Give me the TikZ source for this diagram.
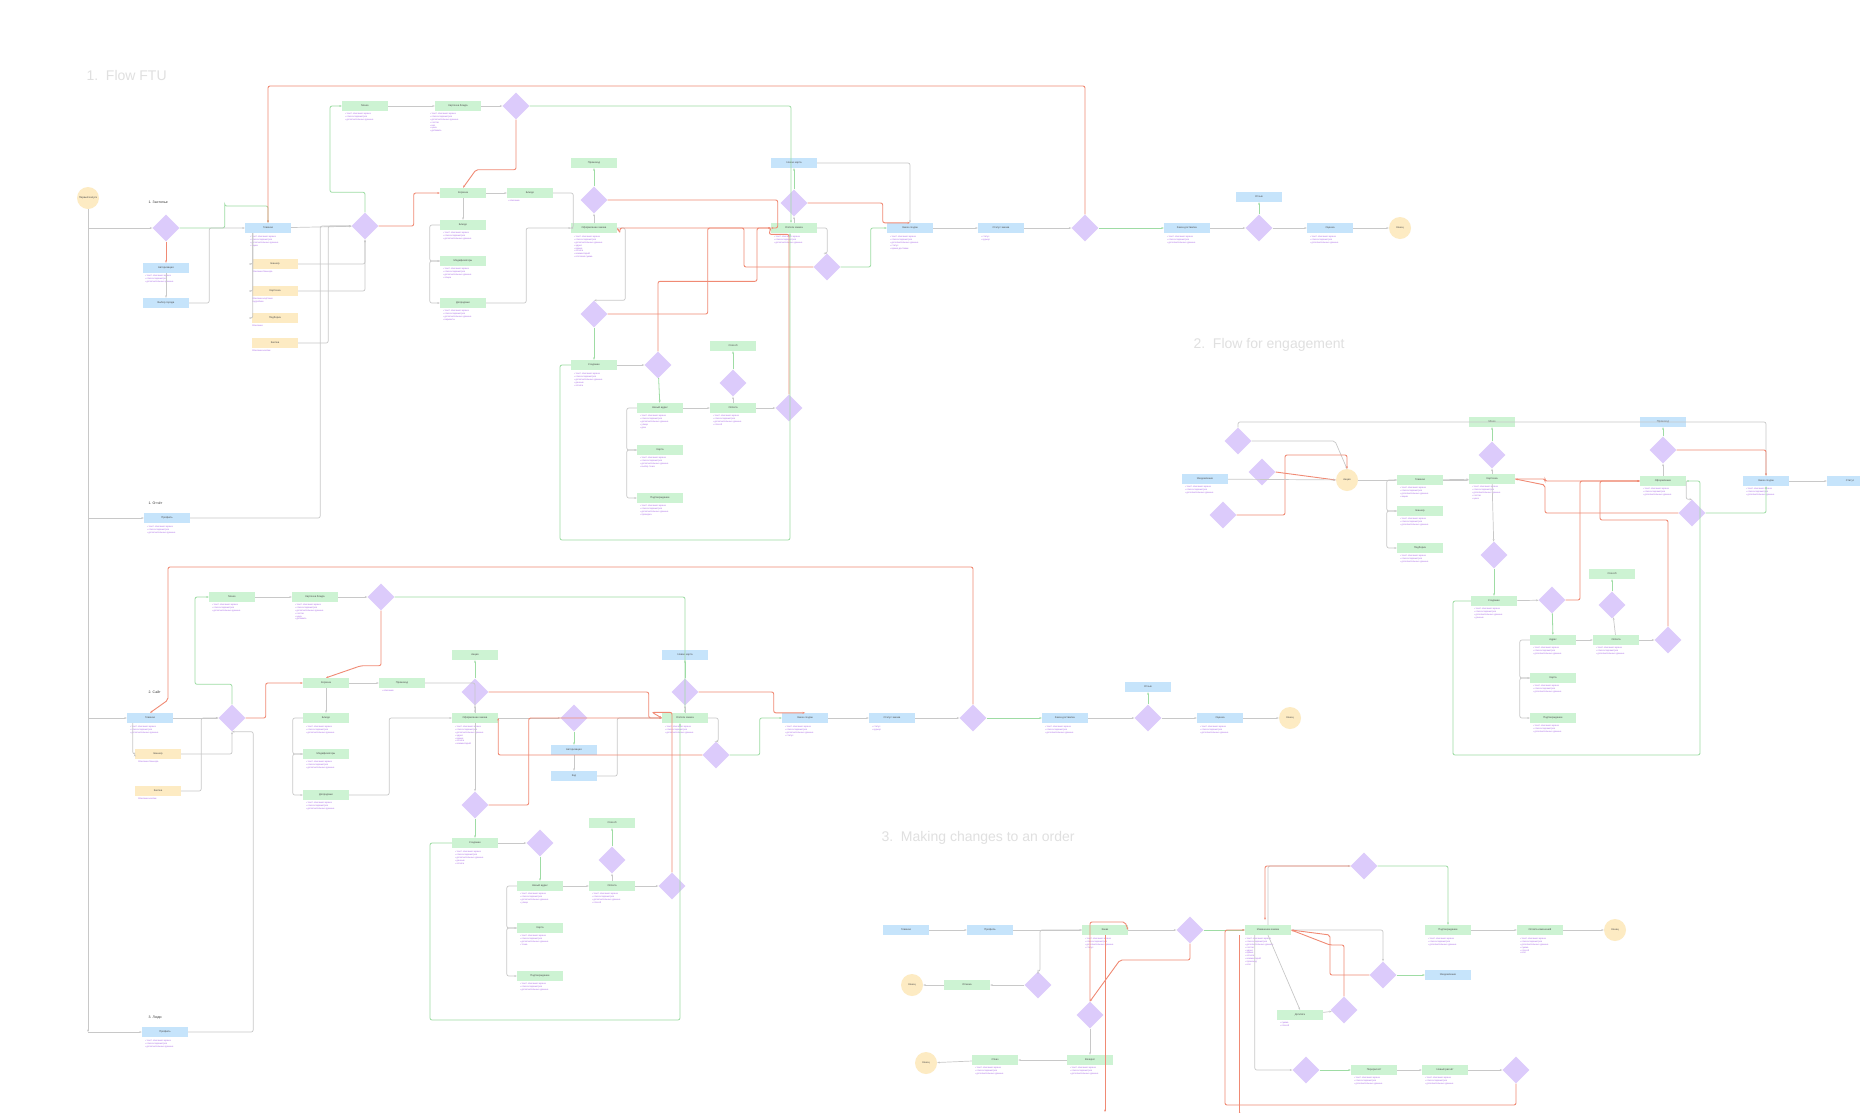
\documentclass[tikz,border=0pt]{standalone}
\usepackage{fontspec}
\setmainfont{Liberation Sans}
\usetikzlibrary{shapes.geometric,arrows.meta}
\definecolor{cb}{HTML}{C6E4FB}
\definecolor{cg}{HTML}{CDF3D3}
\definecolor{cy}{HTML}{FDEBC3}
\definecolor{cd}{HTML}{DCCBFB}
\definecolor{lr}{HTML}{F08A74}
\definecolor{lg}{HTML}{9EDCA4}
\definecolor{lk}{HTML}{C8C8C8}
\definecolor{dp}{HTML}{A96BE6}
\tikzset{
 bx/.style={rectangle,minimum width=46pt,minimum height=10pt,inner sep=0pt,font=\fontsize{2.6}{3}\selectfont,text=black!70},
 dm/.style={diamond,fill=cd,minimum width=27pt,minimum height=27pt,inner sep=0pt,aspect=1,font=\fontsize{2.4}{2.8}\selectfont,align=center,text=black!70},
 ci/.style={circle,fill=cy,minimum size=22pt,inner sep=0pt,font=\fontsize{2.6}{3}\selectfont,text=black!70},
 desc/.style={anchor=north west,text=dp,font=\fontsize{2.3}{2.9}\selectfont,align=left,inner sep=0pt},
 gl/.style={draw=lk,line width=0.7pt,-{Stealth[length=2.5pt]},rounded corners=2pt},
 gn/.style={draw=lg,line width=0.8pt,-{Stealth[length=2.5pt]},rounded corners=2pt},
 rd/.style={draw=lr,line width=0.9pt,-{Stealth[length=2.5pt]},rounded corners=2pt},
 ttl/.style={anchor=west,text=black!12,font=\fontsize{14}{15}\selectfont},
 sub/.style={anchor=west,text=black!80,font=\fontsize{3.5}{4}\selectfont},
}
\newcommand\Bb[4][]{\node[bx,fill=cb] (#2) at (#3,#4) {#1};}
\newcommand\Bg[4][]{\node[bx,fill=cg] (#2) at (#3,#4) {#1};}
\newcommand\By[4][]{\node[bx,fill=cy] (#2) at (#3,#4) {#1};}
\newcommand\Dm[4][]{\node[dm] (#2) at (#3,#4) {#1};}
\newcommand\Ci[4][]{\node[ci] (#2) at (#3,#4) {#1};}
\newcommand\Ds[3]{\node[desc] at (#2,#3) {#1};}
\newcommand\LL{• текст описания экрана\\• список параметров\\• дополнительные данные}
\begin{document}
\begin{tikzpicture}[x=1pt,y=-1pt]
\useasboundingbox[fill=white] (0,0) rectangle (1860,1112);
% ===== section 1
\node[ttl] (t1) at (83,75) {1.\ \ Flow FTU};
\node[sub] (s1) at (145,202) {1. Застолье};
\Ci[Первый запуск]{c1}{88}{198}
\Dm{d1}{166}{228}
\Bb[Авторизация]{b1}{166}{268} \Ds{\LL}{145}{275}
\Bb[Выбор города]{b2}{166}{303}
\Bb[Главная]{b3}{268}{228} \Ds{\LL\\• акции}{250}{236}
\By[Баннер]{y1}{275}{264} \Ds{Описание баннера}{252}{271}
\By[Карточка]{y2}{275}{291} \Ds{Описание карточки\\подробнее}{252}{298}
\By[Подборка]{y3}{275}{318} \Ds{Описание}{252}{325}
\By[Кнопка]{y4}{275}{343} \Ds{Описание кнопки}{252}{350}
\Dm{d2}{365}{226}
\Bg[Меню]{g1}{365}{106} \Ds{\LL}{345}{113}
\Bg[Карточка блюда]{g2}{458}{106} \Ds{\LL\\• состав\\• вес\\• цена\\• добавить}{430}{113}
\Dm{d3}{516}{106}
\Bg[Корзина]{g3}{463}{193}
\Bg[Блюдо]{g4}{530}{193} \Ds{• описание}{508}{200}
\Bg[Блюдо]{g5}{463}{225} \Ds{\LL}{443}{232}
\Bg[Модификаторы]{g6}{463}{261} \Ds{\LL\\• опции}{443}{268}
\Bg[Допродажи]{g7}{463}{303} \Ds{\LL\\• варианты}{443}{310}
\Bg[Промокод]{g8}{594}{163}
\Dm{d4}{594}{200}
\Bg[Оформление заказа]{g9}{594}{228} \Ds{\LL\\• адрес\\• время\\• оплата\\• комментарий\\• итоговая сумма}{574}{236}
\Dm{d5}{594}{314}
\Bg[Создание]{g10}{594}{365} \Ds{\LL\\• данные\\• оплата}{574}{373}
\Dm{d6}{658}{365}
\Bg[Новый адрес]{g11}{660}{408} \Ds{\LL\\• улица\\• дом}{640}{415}
\Bg[Карта]{g12}{660}{450} \Ds{\LL\\• выбор точки}{640}{457}
\Bg[Подтверждение]{g13}{660}{498} \Ds{\LL\\• проверка}{640}{505}
\Bg[Оплата]{g14}{733}{408} \Ds{\LL\\• способ}{713}{415}
\Dm{d7}{733}{383}
\Bg[Способ]{g15}{733}{346}
\Dm{d8}{789}{408}
\Bb[Новая карта]{b4}{794}{163}
\Dm{d9}{794}{203}
\Bg[Оплата заказа]{g16}{794}{228} \Ds{\LL}{774}{236}
\Dm{d10}{827}{267}
\Bb[Заказ создан]{b5}{910}{228} \Ds{\LL\\• статус\\• время доставки}{890}{236}
\Bb[Статус заказа]{b6}{1001}{228} \Ds{• статус\\• курьер}{981}{236}
\Dm{d11}{1085}{228}
\Bb[Заказ доставлен]{b7}{1187}{228} \Ds{\LL}{1167}{236}
\Dm{d12}{1259}{228}
\Bb[Отзыв]{b8}{1259}{197}
\Bb[Оценка]{b9}{1330}{228} \Ds{\LL}{1310}{236}
\Ci[Конец]{c2}{1400}{228}
\node[sub] (s2) at (145,503) {1. Отчёт};
\Bb[Профиль]{b10}{167}{518} \Ds{\LL}{147}{526}
% connectors sec 1
\draw[gl] (c1) -- (88,1032);
\draw[gl] (88,228) -- (d1);
\draw[rd] (d1) -- (b1);
\draw[gn] (d1.east) -- ++(45,0) |- ++(0,-22) -| (b3.north);
\draw[gl] (b1) -- (b2);
\draw[gl] (b2.east) -- ++(20,0) |- (b3.west);
\draw[gl] (b3) -- (d2);
\draw[gl] (y1) -| (d2);
\draw[gl] (y2.east) -| (d2.south);
\draw[gl] (y4.east) -- ++(30,0) |- (d2.west);
\draw[gl] (b3.south west) ++(8,0) |- (y1.west);
\draw[gl] (b3.south west) ++(8,0) |- (y2.west);
\draw[gl] (b3.south west) ++(8,0) |- (y3.west);
\draw[gn] (d2.north) -- ++(0,-20) -| (330,106) -- (g1.west);
\draw[rd] (d2.east) -- ++(35,0) |- (g3.west);
\draw[gl] (g1) -- (g2);
\draw[gl] (g2) -- (d3);
\draw[rd] (d3.south) |- ++(-40,50) -- (g3.north);
\draw[gn] (d3.east) -- (791,106) -- (g9.north-|791,0) ;
\draw[gl] (g3) -- (g4);
\draw[gl] (g3) -- (g5);
\draw[gl] (g5.west) -- ++(-10,0) |- (g6.west);
\draw[gl] (g6.west) -- ++(-10,0) |- (g7.west);
\draw[gl] (g4.east) -- ++(20,0) |- (g9.west);
\draw[gl] (g7.east) -- ++(40,0) |- (g9.west);
\draw[gl] (g9) -- (d4);
\draw[gn] (d4) -- (g8);
\draw[rd] (d4.east) -- ++(170,0) |- (g16.west);
\draw[gl] (g9.east) -- ++(8,0) |- (d5.north);
\draw[gn] (d5) -- (g10);
\draw[rd] (d5.east) -- ++(100,0) |- (g16.west);
\draw[gl] (g10) -- (d6);
\draw[gn] (d6) -- (g11);
\draw[gl] (g11) -- (g14);
\draw[gl] (g11.west) -- ++(-10,0) |- (g12.west);
\draw[gl] (g12.west) -- ++(-10,0) |- (g13.west);
\draw[gl] (g14) -- (d7);
\draw[gn] (d7) -- (g15);
\draw[gl] (g14) -- (d8);
\draw[rd] (d8.north) |- ++(-20,-160) -- (g16.west);
\draw[rd] (d6.north) -- ++(0,-70) -| (757,228) -- (g16.west);
\draw[gn] (g10.west) -- (560,365) -- (560,540) -- (790,540) -- (g16.south-|790,0);
\draw[gl] (g16) -- (d9);
\draw[gn] (d9) -- (b4);
\draw[rd] (d9.east) -- ++(75,0) |- (b5.north);
\draw[gl] (b4.east) -| (b5.north);
\draw[gl] (g16.east) -- ++(10,0) |- (d10.north);
\draw[gn] (d10.east) -- ++(30,0) |- (b5.west);
\draw[rd] (d10.west) -| (744,228) -| (620,233) -- (g9.east);
\draw[gl] (b5) -- (b6);
\draw[gl] (b6) -- (d11);
\draw[gn] (d11) -- (b7);
\draw[gl] (b7) -- (d12);
\draw[gn] (d12) -- (b8);
\draw[gl] (d12) -- (b9);
\draw[gl] (b9) -- (c2);
\draw[rd] (d11.north) -- (1085,86) -- (268,86) -- (b3.north);
\draw[gl] (88,518) -- (b10.west);
\draw[gl] (b10.east) -- ++(130,0) |- (d2.west);
% ===== section 2 (left)
\node[sub] (s3) at (145,692) {2. Сайт};
\Bb[Главная]{e1}{150}{718} \Ds{\LL}{130}{726}
\By[Баннер]{e2}{158}{754} \Ds{Описание баннера}{138}{761}
\By[Кнопка]{e3}{158}{791} \Ds{Описание кнопки}{138}{798}
\Dm{e4}{232}{718}
\Bg[Меню]{e5}{232}{597} \Ds{\LL}{212}{604}
\Bg[Карточка блюда]{e6}{315}{597} \Ds{\LL\\• состав\\• цена\\• добавить}{295}{604}
\Dm{e7}{381}{597}
\Bg[Корзина]{e8}{326}{683}
\Bg[Промокод]{e9}{402}{683} \Ds{• описание}{382}{690}
\Bg[Блюдо]{e10}{326}{718} \Ds{\LL}{306}{726}
\Bg[Модификаторы]{e11}{326}{754} \Ds{\LL}{306}{761}
\Bg[Допродажи]{e12}{326}{795} \Ds{\LL}{306}{802}
\Bg[Акция]{e13}{475}{655}
\Dm{e14}{475}{692}
\Bg[Оформление заказа]{e15}{475}{718} \Ds{\LL\\• адрес\\• время\\• оплата\\• комментарий}{455}{726}
\Dm{e16}{574}{718}
\Bb[Авторизация]{e17}{574}{750}
\Bb[Код]{e18}{574}{776}
\Dm{e19}{475}{805}
\Bg[Создание]{e20}{475}{843} \Ds{\LL\\• данные\\• оплата}{455}{851}
\Dm{e21}{540}{843}
\Bg[Новый адрес]{e22}{540}{886} \Ds{\LL\\• улица}{520}{893}
\Bg[Карта]{e23}{540}{928} \Ds{\LL\\• точка}{520}{935}
\Bg[Подтверждение]{e24}{540}{976} \Ds{\LL}{520}{983}
\Bg[Оплата]{e25}{612}{886} \Ds{\LL\\• способ}{592}{893}
\Dm{e26}{612}{860}
\Bg[Способ]{e27}{612}{823}
\Dm{e28}{672}{886}
\Bb[Новая карта]{e29}{685}{655}
\Dm{e30}{685}{692}
\Bg[Оплата заказа]{e31}{685}{718} \Ds{\LL}{665}{726}
\Dm{e32}{716}{755}
\Bb[Заказ создан]{e33}{805}{718} \Ds{\LL\\• статус}{785}{726}
\Bb[Статус заказа]{e34}{892}{718} \Ds{• статус\\• курьер}{872}{726}
\Dm{e35}{973}{718}
\Bb[Заказ доставлен]{e36}{1065}{718} \Ds{\LL}{1045}{726}
\Dm{e37}{1148}{718}
\Bb[Отзыв]{e38}{1148}{687}
\Bb[Оценка]{e39}{1220}{718} \Ds{\LL}{1200}{726}
\Ci[Конец]{e40}{1290}{718}
\node[sub] (s4) at (145,1018) {3. Люди};
\Bb[Профиль]{e41}{165}{1032} \Ds{\LL}{145}{1040}
\draw[gl] (88,718) -- (e1.west);
\draw[gl] (88,1032) -- (e41.west);
\draw[gl] (e1) -- (e4);
\draw[gl] (e1.south west) ++(6,0) |- (e2.west);
\draw[gl] (e2.east) -| (e4.south);
\draw[gl] (e3.east) -- ++(20,0) |- (e4.west);
\draw[gl] (e41.east) -- ++(65,0) |- (e4.south);
\draw[gn] (e4.north) -- ++(0,-20) -| (195,597) -- (e5.west);
\draw[rd] (e4.east) -- ++(20,0) |- (e8.west);
\draw[gl] (e5) -- (e6); \draw[gl] (e6) -- (e7);
\draw[rd] (e7.south) |- ++(-20,55) -- (e8.north);
\draw[gn] (e7.east) -- (685,597) -- (e31.north-|685,0);
\draw[gl] (e8) -- (e9); \draw[gl] (e8) -- (e10);
\draw[gl] (e10.west) -- ++(-10,0) |- (e11.west);
\draw[gl] (e11.west) -- ++(-10,0) |- (e12.west);
\draw[gl] (e9.east) -| (e15.north);
\draw[gl] (e12.east) -- ++(40,0) |- (e15.west);
\draw[gl] (e15) -- (e14); \draw[gn] (e14) -- (e13);
\draw[rd] (e14.east) -- ++(160,0) |- (e31.west);
\draw[gl] (e15) -- (e16); \draw[gn] (e16) -- (e17); \draw[gl] (e17) -- (e18);
\draw[gl] (e18.east) -- ++(20,0) |- (e31.west);
\draw[gl] (e15) -- (e19); \draw[gn] (e19) -- (e20);
\draw[rd] (e19.east) -- ++(40,0) |- (e31.west);
\draw[gl] (e20) -- (e21); \draw[gn] (e21) -- (e22);
\draw[gl] (e22) -- (e25);
\draw[gl] (e22.west) -- ++(-10,0) |- (e23.west);
\draw[gl] (e23.west) -- ++(-10,0) |- (e24.west);
\draw[gl] (e25) -- (e26); \draw[gn] (e26) -- (e27);
\draw[gl] (e25) -- (e28);
\draw[rd] (e28.north) |- ++(-20,-160) -- (e31.west);
\draw[gn] (e20.west) -- (430,843) -- (430,1020) -- (680,1020) -- (e31.south-|680,0);
\draw[gl] (e31) -- (e30); \draw[gn] (e30) -- (e29);
\draw[rd] (e30.east) -- ++(75,0) |- (e33.north);
\draw[gl] (e31.east) -- ++(10,0) |- (e32.north);
\draw[gn] (e32.east) -- ++(30,0) |- (e33.west);
\draw[rd] (e32.west) -| (e15.east);
\draw[gl] (e33) -- (e34); \draw[gl] (e34) -- (e35); \draw[gn] (e35) -- (e36);
\draw[gl] (e36) -- (e37); \draw[gn] (e37) -- (e38); \draw[gl] (e37) -- (e39); \draw[gl] (e39) -- (e40);
\draw[rd] (e35.north) -- (973,567) -- (168,567) -- (168,700) -- (e1.north);
% ===== section 2 right
\node[ttl] (t2) at (1190,345) {2.\ \ Flow for engagement};
\Dm{f1}{1238}{441} \Dm{f2}{1262}{472}
\Bb[Уведомление]{f3}{1205}{479} \Ds{\LL}{1185}{486}
\Dm{f4}{1223}{515}
\Ci[Акция]{f5}{1347}{480}
\Bg[Главная]{f6}{1420}{480} \Ds{\LL\\• акции}{1400}{487}
\Bg[Баннер]{f7}{1420}{511} \Ds{\LL}{1400}{518}
\Bg[Подборка]{f8}{1420}{548} \Ds{\LL}{1400}{555}
\Bg[Меню]{f9}{1492}{422} \Dm{f10}{1492}{455}
\Bg[Карточка]{f11}{1492}{479} \Ds{\LL\\• состав\\• цена}{1472}{486}
\Dm{f12}{1494}{555}
\Bb[Промокод]{f13}{1663}{422} \Dm{f14}{1663}{450}
\Bg[Оформление]{f15}{1663}{481} \Ds{\LL}{1643}{488}
\Dm{f16}{1692}{513}
\Bb[Заказ создан]{f17}{1766}{481} \Ds{\LL}{1746}{488}
\Bb[Статус]{f18}{1850}{481}
\Bg[Создание]{f19}{1494}{601} \Ds{\LL\\• данные}{1474}{608}
\Dm{f20}{1552}{600}
\Bg[Адрес]{f21}{1553}{640} \Ds{\LL}{1533}{647}
\Bg[Карта]{f22}{1553}{678} \Ds{\LL}{1533}{685}
\Bg[Подтверждение]{f23}{1553}{718} \Ds{\LL}{1533}{725}
\Bg[Способ]{f24}{1612}{574} \Dm{f25}{1612}{605}
\Bg[Оплата]{f26}{1616}{640} \Ds{\LL}{1596}{647}
\Dm{f27}{1668}{640}
\draw[gl] (f1.east) -- (1335,441) -- (f5.north);
\draw[rd] (f2.east) -- (f5.west);
\draw[gl] (f1.north) |- (1766,422) -- (f17.north);
\draw[rd] (f4.east) -| (1285,455) -| (f5.north);
\draw[gl] (f3) -- (f5);
\draw[gl] (f5) -- (f6); \draw[gl] (f6) -- (f9.west|-f6.east) ;
\draw[gl] (f6.west) -- ++(-10,0) |- (f7.west);
\draw[gl] (f7.west) -- ++(-10,0) |- (f8.west);
\draw[gl] (f11) -- (f10); \draw[gn] (f10) -- (f9);
\draw[gl] (f6) -- (f11);
\draw[rd] (f11.east) -- (1545,479) |- (f15.west);
\draw[gl] (f11) -- (f12); \draw[gn] (f12) -- (f19);
\draw[gl] (f15) -- (f14); \draw[gn] (f14) -- (f13);
\draw[rd] (f14.east) -| (f17.north);
\draw[gl] (f15.east) |- (f16.north);
\draw[gn] (f16.east) -| (f17.south);
\draw[rd] (f16.west) -| (1545,485) -- (f11.east);
\draw[gl] (f17) -- (f18);
\draw[gl] (f19) -- (f20); \draw[gn] (f20) -- (f21);
\draw[gl] (f21) -- (f26);
\draw[gl] (f21.west) -- ++(-10,0) |- (f22.west);
\draw[gl] (f22.west) -- ++(-10,0) |- (f23.west);
\draw[gl] (f26) -- (f25); \draw[gn] (f25) -- (f24);
\draw[gl] (f26) -- (f27);
\draw[rd] (f27.north) |- (1600,520) -- (1600,481) -- (f15.west);
\draw[rd] (f20.east) -- (1580,600) |- (f15.west);
\draw[gn] (f19.west) -- (1453,601) |- (1453,755) -| (1700,755) |- (f15.east);
% ===== section 3
\node[ttl] (t3) at (878,838) {3.\ \ Making changes to an order};
\Bb[Главная]{h1}{906}{930}
\Bb[Профиль]{h2}{990}{930}
\Bg[Заказ]{h3}{1105}{930} \Ds{\LL\\• статус}{1085}{938}
\Dm{h4}{1190}{930}
\Bg[Изменение заказа]{h5}{1268}{930} \Ds{\LL\\• состав\\• адрес\\• время\\• оплата\\• комментарий\\• промокод\\• итог}{1245}{938}
\Dm{h6}{1364}{866}
\Bg[Подтверждение]{h7}{1448}{930} \Ds{\LL}{1428}{938}
\Bg[Оплата изменений]{h8}{1540}{930} \Ds{\LL\\• сумма\\• способ\\• итог}{1520}{938}
\Ci[Конец]{h9}{1615}{930}
\Ci[Конец]{h10}{912}{985}
\Bg[Отмена]{h11}{967}{985}
\Dm{h12}{1038}{985}
\Dm{h13}{1090}{1015}
\Bg[Доплата]{h14}{1300}{1015} \Ds{• сумма\\• способ}{1280}{1022}
\Dm{h15}{1344}{1010}
\Dm{h16}{1383}{975}
\Bb[Уведомление]{h17}{1448}{975}
\Ci[Конец]{h18}{926}{1063}
\Bg[Отказ]{h19}{995}{1060} \Ds{\LL}{975}{1067}
\Bg[Возврат]{h20}{1090}{1060} \Ds{\LL}{1070}{1067}
\Dm{h21}{1306}{1070}
\Bg[Перерасчёт]{h22}{1374}{1070} \Ds{\LL}{1354}{1077}
\Bg[Новый расчёт]{h23}{1445}{1070} \Ds{\LL}{1425}{1077}
\Dm{h24}{1516}{1070}
\draw[gl] (h1) -- (h2); \draw[gl] (h2) -- (h3); \draw[gl] (h3) -- (h4);
\draw[gn] (h4) -- (h5);
\draw[gl] (h5.north) |- (h6.west);
\draw[gn] (h6.east) -| (h7.north);
\draw[rd] (h6.west) -- (1265,866) -- (1265,920);
\draw[gl] (h7) -- (h8); \draw[gl] (h8) -- (h9);
\draw[gl] (h3.west) -- (1040,930) |- (h12.north);
\draw[gl] (h12) -- (h11); \draw[gl] (h11) -- (h10);
\draw[rd] (h4.south) |- (1120,960) -- (h13.north);
\draw[gl] (h13) -- (h20); \draw[gl] (h20) -- (h19); \draw[gl] (h19) -- (h18);
\draw[rd] (h13.north) |- (1125,922) -- (h3.east);
\draw[gl] (h5.south) -- (h14.north);
\draw[gl] (h5.east) -| (h16.north);
\draw[gn] (h16) -- (h17);
\draw[rd] (h16.west) -| (1330,935) -- (h5.east);
\draw[gl] (h14) -- (h15);
\draw[rd] (h15.north) |- (1330,945) -- (h5.east);
\draw[gl] (h5.south west) ++(10,0) |- (h21.west);
\draw[gn] (h21) -- (h22); \draw[gl] (h22) -- (h23); \draw[gl] (h23) -- (h24);
\draw[rd] (h24.south) -- (1516,1105) -| (1225,1100) |- (h5.west);
\draw[rd] (h3.south) -- (1105,1112);
\draw[rd] (h5.south west) ++(-5,0) -- ++(0,180);
\end{tikzpicture}
\end{document}
